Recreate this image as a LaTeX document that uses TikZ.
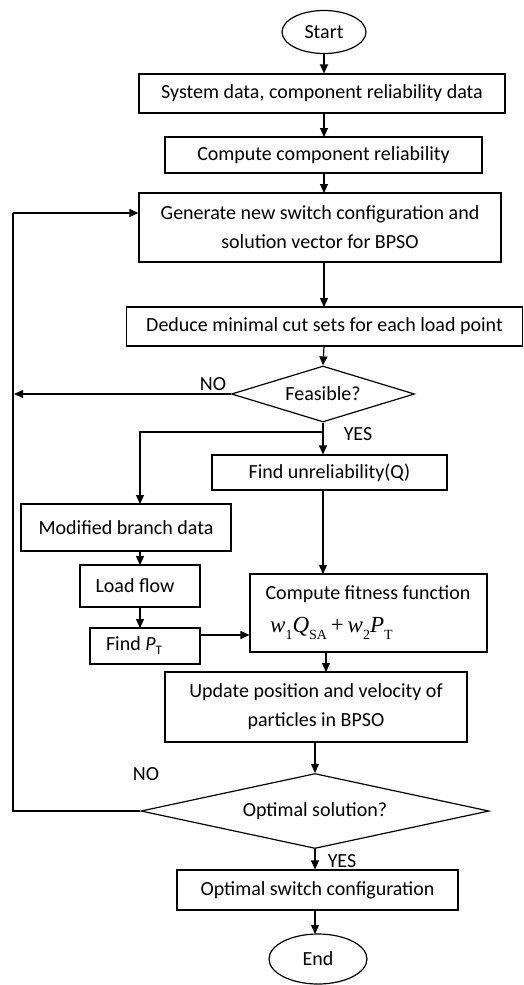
\documentclass[tikz,border=0pt]{standalone}
\usepackage{fontspec}
\setmainfont{Carlito}
\newfontfamily\tnr{Liberation Serif}
\usetikzlibrary{shapes.geometric,arrows.meta}
\newcommand{\sbs}[1]{\raisebox{-0.3em}{\fontsize{14}{14}\selectfont #1}}
\begin{document}
\begin{tikzpicture}[x=1pt,y=-1pt,
  every node/.style={font=\fontsize{20}{29}\selectfont, inner sep=0pt},
  box/.style={draw, line width=1.2pt, rectangle, align=center},
  term/.style={draw, line width=1.2pt, ellipse},
  dec/.style={draw, line width=1.2pt, diamond},
  conn/.style={line width=1.2pt},
  arr/.style={line width=1.2pt, -{Triangle[length=9pt,width=8pt]}},
  lbl/.style={font=\fontsize{20}{24}\selectfont}]
\useasboundingbox (0,0) rectangle (524,985);
% nodes
\node[term, minimum width=84, minimum height=43] (start) at (324,32) {Start};
\node[box, minimum width=366, minimum height=39] (b1) at (322,93.5) {System data, component reliability data};
\node[box, minimum width=317, minimum height=36] (b2) at (323.5,155) {Compute component reliability};
\node[box, minimum width=362, minimum height=69] (b3) at (320,227.5) {Generate new switch configuration and\\solution vector for BPSO};
\node[box, minimum width=396, minimum height=39] (b4) at (324.5,326.5) {Deduce minimal cut sets for each load point};
\node[dec, minimum width=183, minimum height=56, aspect=3.27] (d1) at (323,394) {Feasible?};
\node[box, minimum width=235, minimum height=35] (b5) at (329.5,472.5) {Find unreliability(Q)};
\node[box, minimum width=210, minimum height=47] (b6) at (126,527.5) {Modified branch data};
\node[box, minimum width=120, minimum height=42] (b7) at (140,586) {\hspace*{-10pt}Load flow};
\node[box, minimum width=110, minimum height=36] (b8) at (145,646) {\hspace*{-22pt}Find \textit{P}\raisebox{-0.2em}{\fontsize{13}{13}\selectfont T}};
\node[box, minimum width=237, minimum height=78] (b9) at (368.5,613) {};
\node (b9t) at (368,594) {Compute fitness function};
\node[anchor=west] (b9f) at (270,628) {\tnr\fontsize{23}{23}\selectfont \textit{w}\sbs{1}\textit{Q}\sbs{SA}\,+\,\textit{w}\sbs{2}\textit{P}\sbs{T}};
\node[box, minimum width=302, minimum height=70] (b10) at (316,707) {Update position and velocity of\\particles in BPSO};
\node[dec, minimum width=348, minimum height=75, aspect=4.64] (d2) at (315,811) {Optimal solution?};
\node[box, minimum width=281, minimum height=40] (b11) at (317.5,890) {Optimal switch configuration};
\node[term, minimum width=98, minimum height=50] (end) at (318,959) {End};
% labels
\node[lbl] (no1) at (213,384) {NO};
\node[lbl] (yes1) at (358,434) {YES};
\node[lbl] (no2) at (146,774) {NO};
\node[lbl] (yes2) at (342,861) {YES};
% helper coordinates
\coordinate (loopx) at (13,213);
\coordinate (split) at (324,432);
% connectors
\draw[arr] (start.south) -- (start.south |- b1.north);
\draw[arr] (324,113) -- (324,137);
\draw[arr] (324,173) -- (324,193);
\draw[arr] (324,262) -- (324,307);
\draw[arr] (324,346) -- (d1.north);
\draw[arr] (d1.west) -- (14,394);
\draw[conn] (d2.west) -- (13,811) -- (loopx);
\draw[arr] (loopx) -- (b3.west |- loopx);
\draw[arr] (d1.south) -- (d1.south |- b5.north);
\draw[arr] (split) -- (140,432) -- (140,504);
\draw[arr] (323,490) -- (323,574);
\draw[arr] (140,551) -- (140,565);
\draw[arr] (140,607) -- (140,628);
\draw[arr] (200,635) -- (b9.west |- 200,635);
\draw[arr] (326,652) -- (326,672);
\draw[arr] (d2.north |- b10.south) -- (d2.north);
\draw[arr] (d2.south) -- (d2.south |- b11.north);
\draw[arr] (315,910) -- (315,934);
\end{tikzpicture}
\end{document}
